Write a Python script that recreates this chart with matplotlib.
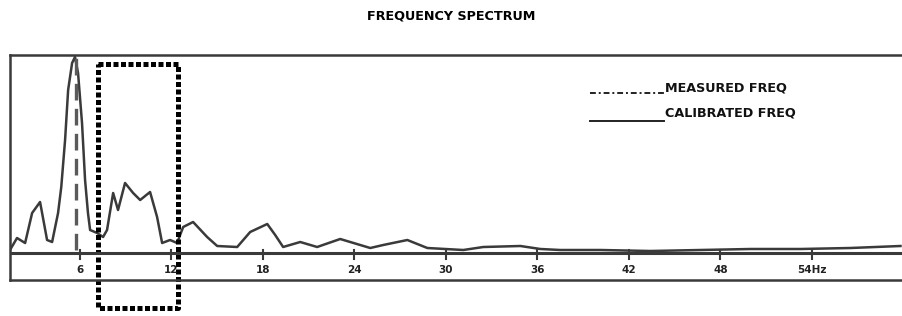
import numpy as np
import matplotlib
matplotlib.use("Agg")
import matplotlib.pyplot as plt
from matplotlib.lines import Line2D

plt.rcParams['font.family'] = ['DejaVu Sans']

# spectrum (Hz, relative amplitude)
freq = [1.44, 1.90, 2.43, 2.89, 3.41, 3.87, 4.20, 4.59, 4.80, 5.05, 5.25, 5.51,
        5.70, 5.90, 6.16, 6.36, 6.55, 6.69, 7.15, 7.54, 7.80, 8.20, 8.52, 8.98,
        9.51, 9.97, 10.62, 11.08, 11.41, 11.93, 12.39, 12.79, 13.44, 14.36,
        15.02, 16.33, 17.18, 18.30, 18.82, 19.34, 20.46, 21.57, 23.08, 25.05,
        25.90, 27.48, 28.79, 31.15, 32.46, 34.89, 36.20, 37.51, 40.13, 43.41,
        46.69, 49.97, 53.25, 56.52, 59.80]
amp = [3, 15, 10, 40, 51, 13, 11, 40, 66, 113, 163, 190,
       196, 180, 130, 73, 40, 23, 20, 16, 23, 60, 43, 70,
       60, 53, 61, 36, 10, 13, 10, 26, 31, 16,
       7, 6, 21, 29, 18, 6, 11, 6, 14, 5,
       8, 13, 5, 3, 6, 7, 4, 3, 3, 2,
       3, 4, 4, 5, 7]

measured_freq = 5.77
window = (7.2, 12.46)          # calibration window, Hz
window_amp = (-55, 189)

tick_pos = [6, 12, 18, 24, 30, 36, 42, 48, 54]
tick_lab = ['6', '12', '18', '24', '30', '36', '42', '48', '54Hz']

legend_labels = ['MEASURED FREQ', 'CALIBRATED FREQ']

W, H = 902, 316
fig = plt.figure(figsize=(W / 100, H / 100), dpi=100)
# axes box: px 10..902 horizontally, py 55..280 vertically
ax = fig.add_axes([10 / W, 1 - 280 / H, 892 / W, 225 / H])
ax.set_xlim(1.44, 59.9)
ax.set_ylim(-27, 198)

ink = '#3a3a3a'
ax.plot(freq, amp, color=ink, lw=1.8, solid_joinstyle='round')
ax.axvline(measured_freq, ymin=30 / 225, ymax=1, color='#5a5a5a', lw=2.4,
           ls=(0, (5, 2.5)))

x0, x1 = window
y0, y1 = window_amp
ax.plot([x0, x1, x1, x0, x0], [y1, y1, y0, y0, y1], color='black', lw=3.6,
        ls=(0, (1, 0.5)), clip_on=False)

# frame
for s in ['top', 'left', 'bottom']:
    ax.spines[s].set_color(ink)
    ax.spines[s].set_linewidth(1.8)
ax.spines['right'].set_visible(False)
ax.axhline(0, color=ink, lw=2.2)

ax.set_yticks([])
ax.set_xticks(tick_pos)
ax.set_xticklabels([])
ax.tick_params(axis='x', length=0)
for p, lab in zip(tick_pos, tick_lab):
    ax.plot([p, p], [-6, 3], color=ink, lw=1.5)
    ax.text(p, -17, lab, ha='center', va='center', fontsize=7.5,
            fontweight='bold', color='#222222')

# legend drawn by hand: line under text baseline, as in the drawing
styles = [(0, (3, 1.5, 1, 1.5)), '-']
for i, (lab, ls) in enumerate(zip(legend_labels, styles)):
    ty = 1 - (88 + 25 * i) / H
    ly = 1 - (93 + 28 * i) / H
    fig.add_artist(Line2D([590 / W, 664 / W], [ly, ly], color='#222222',
                          lw=1.4, ls=ls))
    fig.text(665 / W, ty, lab, ha='left', va='center', fontsize=9.2,
             fontweight='bold', color='#111111')

fig.text(0.5, 1 - 16 / H, 'FREQUENCY SPECTRUM', ha='center', va='center',
         fontsize=9.2, fontweight='bold')

fig.savefig('out.png', dpi=100)
